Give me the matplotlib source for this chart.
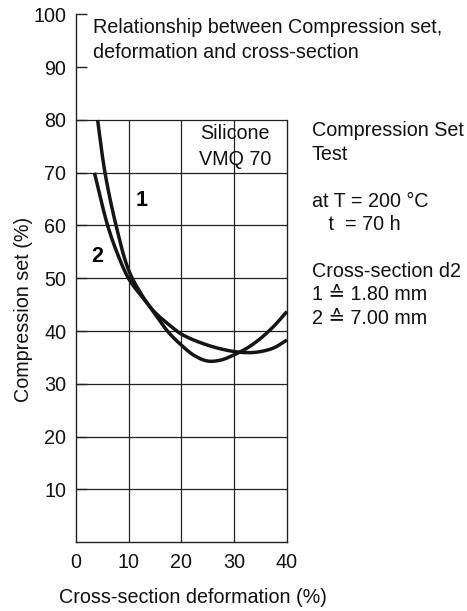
import numpy as np
import matplotlib
matplotlib.use("Agg")
import matplotlib.pyplot as plt

plt.rcParams['font.family'] = ['Liberation Sans', 'DejaVu Sans']

# Data
x_d1 = [4.1, 5.5, 7.6, 10.0, 12.5, 15.0, 17.5, 20.0, 22.5, 25.0, 27.5, 30.0, 32.5, 35.0, 37.5, 40.0]
y_d1 = [80.0, 70.0, 60.0, 51.5, 46.8, 43.2, 39.8, 37.3, 35.3, 34.3, 34.5, 35.5, 36.8, 38.6, 40.9, 43.7]
x_d2 = [3.5, 6.0, 8.0, 10.0, 12.5, 15.0, 17.5, 20.0, 25.0, 30.0, 33.0, 35.0, 37.5, 40.0]
y_d2 = [70.0, 60.0, 54.3, 49.9, 46.5, 43.5, 41.3, 39.4, 37.3, 36.1, 35.9, 36.1, 36.8, 38.3]
x_ticks = [0, 10, 20, 30, 40]
y_ticks = [10, 20, 30, 40, 50, 60, 70, 80, 90, 100]
curve_labels = ["1", "2"]
side_lines = ["Compression Set", "Test", "", "at T = 200 \u00b0C", "   t  = 70 h", "",
              "Cross-section d2", "1 \u2259 1.80 mm", "2 \u2259 7.00 mm"]


def catmull_rom(xs, ys, n=30):
    p = np.column_stack([xs, ys]).astype(float)
    p = np.vstack([2 * p[0] - p[1], p, 2 * p[-1] - p[-2]])
    out = []
    for i in range(1, len(p) - 2):
        p0, p1, p2, p3 = p[i - 1], p[i], p[i + 1], p[i + 2]
        t0 = 0.0
        t1 = t0 + np.linalg.norm(p1 - p0) ** 0.5
        t2 = t1 + np.linalg.norm(p2 - p1) ** 0.5
        t3 = t2 + np.linalg.norm(p3 - p2) ** 0.5
        t = np.linspace(t1, t2, n)[:, None]
        a1 = (t1 - t) / (t1 - t0) * p0 + (t - t0) / (t1 - t0) * p1
        a2 = (t2 - t) / (t2 - t1) * p1 + (t - t1) / (t2 - t1) * p2
        a3 = (t3 - t) / (t3 - t2) * p2 + (t - t2) / (t3 - t2) * p3
        b1 = (t2 - t) / (t2 - t0) * a1 + (t - t0) / (t2 - t0) * a2
        b2 = (t3 - t) / (t3 - t1) * a2 + (t - t1) / (t3 - t1) * a3
        c = (t2 - t) / (t2 - t1) * b1 + (t - t1) / (t2 - t1) * b2
        out.append(c if i == len(p) - 3 else c[:-1])
    c = np.vstack(out)
    return c[:, 0], c[:, 1]


fig = plt.figure(figsize=(4.67, 6.11), dpi=100)
ax = fig.add_axes([0.1627, 0.1129, 0.4518, 0.8634])
ax.set_xlim(0, 40)
ax.set_ylim(0, 100)

gc = '#222222'
tc = '#111111'
fs = 14.2
# grid
ax.hlines([10, 20, 30, 40, 50, 60, 70, 80], 0, 40, colors=gc, lw=0.9, zorder=1)
ax.vlines([10, 20, 30], 0, 80, colors=gc, lw=0.9, zorder=1)

ax.spines['top'].set_visible(False)
ax.spines['right'].set_bounds(0, 80)
for s in ['left', 'bottom', 'right']:
    ax.spines[s].set_color(gc)
    ax.spines[s].set_linewidth(1.0)

ax.set_xticks(x_ticks)
ax.set_yticks(y_ticks)
ax.tick_params(axis='x', length=0, pad=8, labelsize=fs, colors=tc)
ax.tick_params(axis='y', direction='in', length=8, width=1.0, pad=7, labelsize=fs,
               colors=gc, labelcolor=tc)

cx1, cy1 = catmull_rom(x_d1, y_d1)
cx2, cy2 = catmull_rom(x_d2, y_d2)
ax.plot(cx1, cy1, color='#151515', lw=2.5, solid_capstyle='butt', zorder=3, clip_on=False)
ax.plot(cx2, cy2, color='#151515', lw=2.5, solid_capstyle='butt', zorder=3, clip_on=False)

ax.text(12.5, 64.8, curve_labels[0], fontsize=15.5, fontweight='bold', ha='center', va='center')
ax.text(4.0, 54.1, curve_labels[1], fontsize=15.5, fontweight='bold', ha='center', va='center')

ax.text(30.1, 75.0, "Silicone\nVMQ 70", fontsize=fs, ha='center', va='center',
        linespacing=1.45, color=tc)

ax.text(3.3, 95.2, "Relationship between Compression set,\ndeformation and cross-section",
        fontsize=fs, ha='left', va='center', linespacing=1.42, color=tc)

y0 = 131.0
for i, line in enumerate(side_lines):
    if line:
        fig.text(312 / 467, 1 - (y0 + i * 23.4) / 611, line, fontsize=fs, ha='left',
                 va='center', color=tc)

ax.set_ylabel("Compression set (%)", fontsize=fs, color=tc)
ax.yaxis.set_label_coords(-0.204, 0.44)
ax.text(0.555, -0.106, "Cross-section deformation (%)", transform=ax.transAxes,
        fontsize=fs, ha='center', va='center', color=tc)

fig.savefig("out.png", dpi=100)
